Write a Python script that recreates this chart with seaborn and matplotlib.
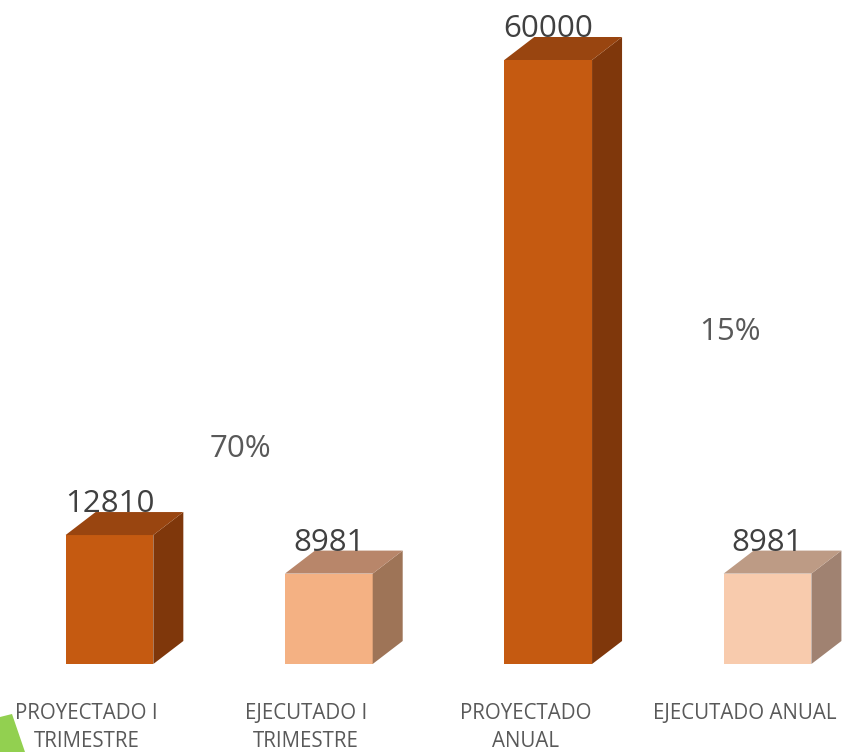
import numpy as np
import matplotlib
matplotlib.use("Agg")
import matplotlib.pyplot as plt
from matplotlib.patches import Polygon
import seaborn as sns

# chart data
categories = ["PROYECTADO I\nTRIMESTRE", "EJECUTADO I\nTRIMESTRE",
              "PROYECTADO\nANUAL", "EJECUTADO ANUAL"]
values = [12810, 8981, 60000, 8981]
percent_labels = ["70%", "15%"]

front_colors = ["#C55A11", "#F4B183", "#C55A11", "#F8CBAD"]
top_colors = ["#994510", "#B8866A", "#994510", "#BD9B85"]
side_colors = ["#7F370B", "#9E7457", "#7F370B", "#A08271"]

sns.set_style("white")
plt.rcParams["font.family"] = ["Open Sans", "DejaVu Sans"]

W, H = 843, 752
fig = plt.figure(figsize=(W / 100, H / 100), dpi=100)
ax = fig.add_axes([0, 88 / H, 1, 604 / H])

sns.barplot(x=categories, y=values, hue=categories, palette=front_colors,
            legend=False, width=0.4, saturation=1, linewidth=0, ax=ax)

xmin, xmax = -0.499, 3.344
ymax = 60000
ax.set_xlim(xmin, xmax)
ax.set_ylim(0, ymax)

# 3d depth, in pixels -> data units
dx = 30 / (W / (xmax - xmin))
dy = 23 / (604 / ymax)

for i, p in enumerate(ax.patches):
    x0, w, h = p.get_x(), p.get_width(), p.get_height()
    side = Polygon([(x0 + w, 0), (x0 + w + dx, dy), (x0 + w + dx, h + dy), (x0 + w, h)],
                   closed=True, facecolor=side_colors[i], edgecolor="none", clip_on=False)
    top = Polygon([(x0, h), (x0 + dx, h + dy), (x0 + w + dx, h + dy), (x0 + w, h)],
                  closed=True, facecolor=top_colors[i], edgecolor="none", clip_on=False)
    ax.add_patch(side)
    ax.add_patch(top)
    ax.text(x0 + w / 2, h + dy, f"{values[i]}", ha="center", va="baseline",
            fontsize=22.5, color="#404040", clip_on=False)

# percentages between pairs
ax.text(0.595, 21350, percent_labels[0], ha="center", va="center",
        fontsize=22.5, color="#595959")
ax.text(2.83, 32980, percent_labels[1], ha="center", va="center",
        fontsize=22.5, color="#595959")

ax.set_xticks(np.arange(len(categories)) - 0.104)
ax.set_xticklabels(categories, fontsize=14.8, color="#595959", linespacing=1.45)
ax.tick_params(axis="x", length=0, pad=28)
ax.set_yticks([])
ax.set_xlabel("")
ax.set_ylabel("")
sns.despine(ax=ax, left=True, bottom=True)

# green corner shape
fig.add_artist(Polygon([(0, 1 - 717 / H), (12 / W, 1 - 714 / H), (25 / W, 0), (0, 0)],
                       closed=True, facecolor="#92D050", edgecolor="none",
                       transform=fig.transFigure))

fig.savefig("out.png", dpi=100)
